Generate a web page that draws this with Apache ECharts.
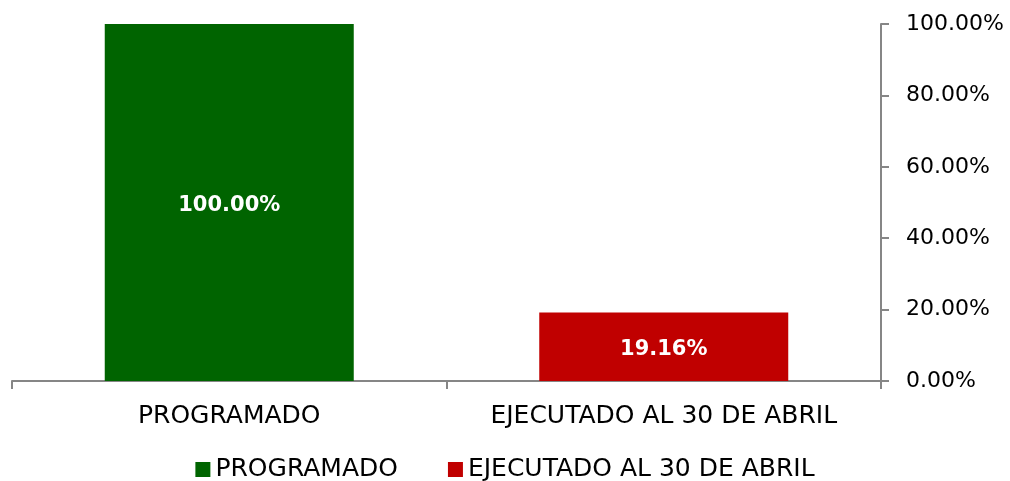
<!DOCTYPE html>
<html>
<head>
<meta charset="utf-8">
<script src="https://cdn.jsdelivr.net/npm/echarts@6/dist/echarts.min.js"></script>
<style>
  html, body { margin: 0; padding: 0; background: #fff; }
  #chart { width: 1010px; height: 481px; }
</style>
</head>
<body>
<div id="chart"></div>
<script>
var categories = ["PROGRAMADO", "EJECUTADO AL 30 DE ABRIL"];
var programado = [100, null];
var ejecutado = [null, 19.16];
var yTicks = [0, 20, 40, 60, 80, 100];

var font = "DejaVu Sans";
var chart = echarts.init(document.getElementById("chart"));

function pct(v) {
  return v.toFixed(2) + "%";
}

var labelStyle = {
  show: true,
  position: "inside",
  offset: [0, 3],
  color: "#fff",
  fontWeight: "bold",
  fontSize: 21,
  fontFamily: font,
  formatter: function (p) { return pct(p.value); }
};

chart.setOption({
  animation: false,
  grid: { left: 12, right: 129, top: 24, bottom: 100 },
  legend: {
    top: 452,
    left: "center",
    itemWidth: 15,
    itemHeight: 15,
    itemGap: 50,
    icon: "rect",
    textStyle: { fontSize: 25, fontFamily: font, color: "#000" },
    data: ["PROGRAMADO", "EJECUTADO AL 30 DE ABRIL"]
  },
  xAxis: {
    type: "category",
    data: categories,
    axisLine: { lineStyle: { color: "#868686", width: 2 } },
    axisTick: { show: true, length: 8, lineStyle: { color: "#868686", width: 2 } },
    axisLabel: { interval: 0, color: "#000", fontSize: 25, fontFamily: font, margin: 23 }
  },
  yAxis: {
    type: "value",
    position: "right",
    min: yTicks[0],
    max: yTicks[yTicks.length - 1],
    interval: 20,
    splitLine: { show: false },
    axisLine: { show: true, lineStyle: { color: "#868686", width: 2 } },
    axisTick: { show: true, inside: false, length: 8, lineStyle: { color: "#868686", width: 2 } },
    axisLabel: {
      color: "#000",
      fontSize: 22,
      fontFamily: font,
      margin: 25,
      formatter: function (v) { return pct(v); }
    }
  },
  series: [
    {
      name: "PROGRAMADO",
      type: "bar",
      stack: "t",
      barWidth: 249,
      itemStyle: { color: "#006400" },
      label: labelStyle,
      data: programado
    },
    {
      name: "EJECUTADO AL 30 DE ABRIL",
      type: "bar",
      stack: "t",
      barWidth: 249,
      itemStyle: { color: "#C00000" },
      label: labelStyle,
      data: ejecutado
    }
  ]
});
</script>
</body>
</html>
